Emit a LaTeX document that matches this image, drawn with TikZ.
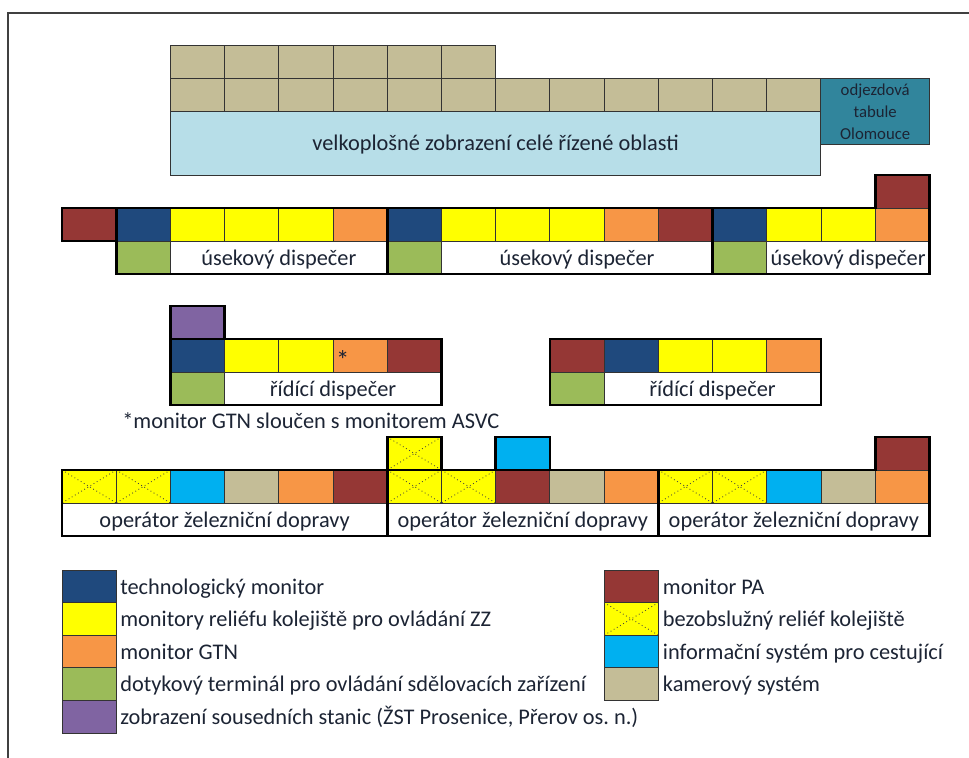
\documentclass[tikz,border=0pt]{standalone}
\usepackage{fontspec}
\setmainfont{Carlito}
\usepackage{tikz}

\definecolor{camcol}{HTML}{C4BD97}
\definecolor{wallcol}{HTML}{B7DEE8}
\definecolor{tabcol}{HTML}{31859C}
\definecolor{techcol}{HTML}{1F497D}
\definecolor{reliefcol}{HTML}{FFFF00}
\definecolor{gtncol}{HTML}{F79646}
\definecolor{touchcol}{HTML}{9BBB59}
\definecolor{nbcol}{HTML}{8064A2}
\definecolor{pacol}{HTML}{953735}
\definecolor{infocol}{HTML}{00B0F0}
\definecolor{txtcol}{HTML}{1C2434}

\begin{document}
\frenchspacing
\begin{tikzpicture}[x=0.025cm, y=-0.025cm,
    cell/.style={draw=black!80, line width=0.7pt},
    block/.style={draw=black, line width=1.9pt, line join=miter},
    xcell/.style={draw=black!75, dotted, line width=0.6pt},
    units/.style={x=1.355cm, y=-0.825cm},
    txt/.style={text=txtcol, inner sep=0pt, anchor=base, font=\fontsize{15.9}{19}\selectfont}]
  \useasboundingbox (0,0) rectangle (969,758);
  \draw[line width=1.1pt, black!75] (8,758) -- (8,13) -- (969,13);

  % videowall
  \begin{scope}[shift={(170.4,45)}, units]
    \foreach \i in {0,...,5} {\draw[cell, fill=camcol] (\i,0) rectangle +(1,1);};
    \foreach \i in {0,...,11} {\draw[cell, fill=camcol] (\i,1) rectangle +(1,1);};
    \draw[cell, fill=wallcol] (0,2) rectangle (12,3.94);
    \draw[cell, fill=tabcol] (12,1) rectangle (14,3);
    \node[txt] (wall) at (6,3.21) {velkoplošné zobrazení celé řízené oblasti};
    \node[txt, anchor=center, align=center, font=\fontsize{11.9}{15.5}\selectfont] (departures) at (13,2.02) {odjezdová\\tabule\\Olomouce};
  \end{scope}

  % sector dispatchers
  \begin{scope}[shift={(62,175)}, units]
    \foreach \c [count=\i from 0] in {pacol,techcol,reliefcol,reliefcol,reliefcol,gtncol,techcol,reliefcol,reliefcol,reliefcol,gtncol,pacol,techcol,reliefcol,reliefcol,gtncol}
      {\draw[cell, fill=\c] (\i,1) rectangle +(1,1);};
    \draw[cell, fill=pacol] (15,0) rectangle +(1,1);
    \foreach \i in {1,6,12} {\draw[cell, fill=touchcol] (\i,2) rectangle +(1,1);};
    \foreach \a/\b/\n in {2/6/1,7/12/2,13/16/3} {
      \draw[cell, fill=white] (\a,2) rectangle (\b,3);
      \node[txt] (sector\n) at ({(\a+\b)/2},2.74) {úsekový dispečer};
    };
    \draw[block] (0,1) rectangle (1,2);
    \draw[block] (1,1) rectangle (6,3);
    \draw[block] (6,1) rectangle (12,3);
    \draw[block] (12,1) -- (15,1) -- (15,0) -- (16,0) -- (16,3) -- (12,3) -- cycle;
  \end{scope}

  % chief dispatchers
  \begin{scope}[shift={(62,306)}, units]
    \draw[cell, fill=nbcol] (2,0) rectangle +(1,1);
    \foreach \c [count=\i from 2] in {techcol,reliefcol,reliefcol,gtncol,pacol}
      {\draw[cell, fill=\c] (\i,1) rectangle +(1,1);};
    \foreach \c [count=\i from 9] in {pacol,techcol,reliefcol,reliefcol,gtncol}
      {\draw[cell, fill=\c] (\i,1) rectangle +(1,1);};
    \foreach \i in {2,9} {\draw[cell, fill=touchcol] (\i,2) rectangle +(1,1);};
    \foreach \a/\b/\n in {3/7/1,10/14/2} {
      \draw[cell, fill=white] (\a,2) rectangle (\b,3);
      \node[txt] (chief\n) at ({(\a+\b)/2},2.74) {řídící dispečer};
    };
    \node[txt, font=\fontsize{19}{19}\selectfont] (star) at (5.18,1.93) {*};
    \draw[block] (2,0) rectangle (3,1);
    \draw[block] (2,0) -- (3,0) -- (3,1) -- (7,1) -- (7,3) -- (2,3) -- cycle;
    \draw[block] (9,1) rectangle (14,3);
  \end{scope}
  \node[txt, anchor=base west] (note) at (122,428) {*monitor GTN sloučen s monitorem ASVC};

  % railway operators
  \begin{scope}[shift={(62,437)}, units]
    \foreach \c [count=\i from 0] in {reliefcol,reliefcol,infocol,camcol,gtncol,pacol,reliefcol,reliefcol,pacol,camcol,gtncol,reliefcol,reliefcol,infocol,camcol,gtncol}
      {\draw[cell, fill=\c] (\i,1) rectangle +(1,1);};
    \foreach \c/\i in {reliefcol/6,infocol/8,pacol/15}
      {\draw[cell, fill=\c] (\i,0) rectangle +(1,1);};
    \foreach \i/\r in {0/1,1/1,6/1,7/1,11/1,12/1,6/0}
      {\draw[xcell] (\i,\r) -- +(1,1) (\i+1,\r) -- +(-1,1);};
    \foreach \a/\b/\n in {0/6/1,6/11/2,11/16/3} {
      \draw[cell, fill=white] (\a,2) rectangle (\b,3);
      \node[txt] (operator\n) at ({(\a+\b)/2},2.74) {operátor železniční dopravy};
    };
    \draw[block] (0,1) rectangle (6,3);
    \draw[block] (6,1) rectangle (11,3);
    \draw[block] (6,0) rectangle (7,1);
    \draw[block] (8,0) rectangle (9,1);
    \draw[block] (11,1) -- (15,1) -- (15,0) -- (16,0) -- (16,3) -- (11,3) -- cycle;
  \end{scope}

  % legend
  \begin{scope}[shift={(62,570)}, x=1.355cm, y=-0.815cm]
    \foreach \c/\t [count=\k from 0] in {techcol/technologický monitor,
        reliefcol/monitory reliéfu kolejiště pro ovládání ZZ,
        gtncol/monitor GTN,
        touchcol/dotykový terminál pro ovládání sdělovacích zařízení,
        nbcol/{zobrazení sousedních stanic (ŽST Prosenice, Přerov os. n.)}} {
      \draw[cell, fill=\c] (0,\k) rectangle +(1,1);
      \node[txt, anchor=base west] (keyl\k) at (1.07,\k+0.74) {\t};
    };
    \foreach \c/\t [count=\k from 0] in {pacol/monitor PA,
        reliefcol/bezobslužný reliéf kolejiště,
        infocol/informační systém pro cestující,
        camcol/kamerový systém} {
      \draw[cell, fill=\c] (10,\k) rectangle +(1,1);
      \node[txt, anchor=base west] (keyr\k) at (11.08,\k+0.74) {\t};
    };
    \draw[xcell] (10,1) -- (11,2) (11,1) -- (10,2);
  \end{scope}
\end{tikzpicture}
\end{document}
